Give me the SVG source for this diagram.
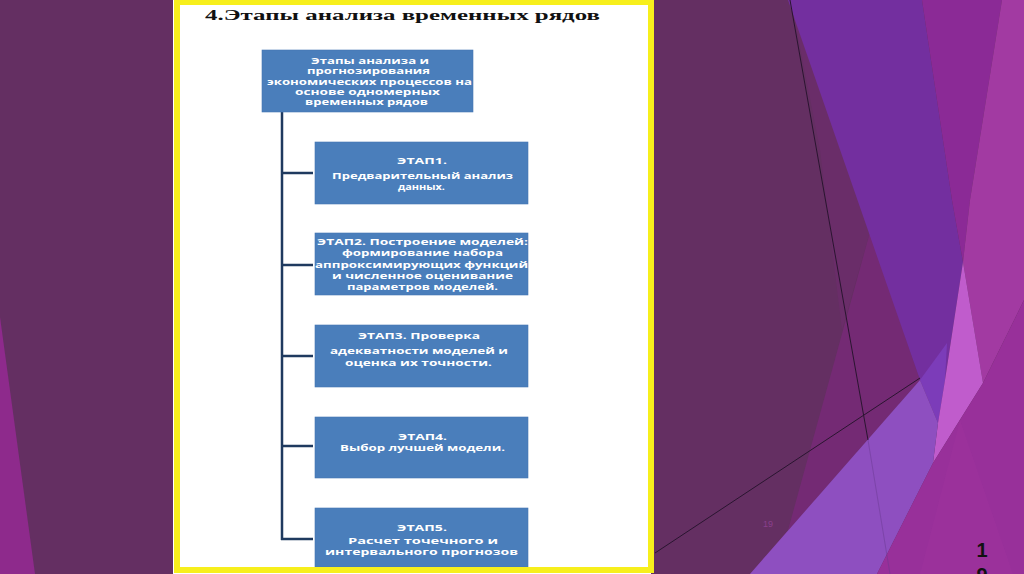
<svg xmlns="http://www.w3.org/2000/svg" width="1024" height="574" viewBox="0 0 1024 574">
<style>
.box{fill:#4a7ebb;stroke:#4476b3;stroke-width:0.6}
.bt{font-family:"Open Sans","Liberation Sans",sans-serif;font-weight:700;font-size:9px;fill:#ffffff;text-anchor:middle}
.conn{stroke:#1f3a5f;stroke-width:2.5;fill:none;stroke-linecap:butt}
.ln{stroke:#2a1530;stroke-width:1;fill:none}
</style>
<g id="background">
<rect x="0" y="0" width="1024" height="574" fill="#642f62"/>
<polygon points="0,317 0,574 35,574" fill="#8e2a8c"/>
<polygon points="791,0 870,232 842,330 820,150" fill="#6a2d69"/>
<polygon points="870,232 920,380 750,574 776,574" fill="#742a74"/>
<polygon points="788,0 922,0 952,200 963,262 945,380 938,423 920,380" fill="#732f9f"/>
<polygon points="920,380 947,343 945,380 938,423" fill="#7c3cb9"/>
<polygon points="922,0 1002,0 970,200 963,262 952,200" fill="#8b2a96"/>
<polygon points="1002,0 1024,0 1024,300 983,383 963,262 970,200" fill="#a23aa2"/>
<polygon points="963,262 983,383 933,463 938,423 945,380" fill="#c05ccc"/>
<polygon points="750,574 920,380 938,423 933,463 877,574" fill="#8e4fc0"/>
<polygon points="877,574 933,463 983,383 1024,300 1024,574" fill="#98309a"/>
<polygon points="920,574 960,420 1013,574" fill="#9c329c" opacity="0.6"/>
<line class="ln" x1="790" y1="0" x2="868" y2="440"/>
<line x1="868" y1="440" x2="890" y2="574" stroke="#6a3a90" stroke-width="0.8" opacity="0.6"/>
<line class="ln" x1="655" y1="553" x2="920" y2="378"/>
<text x="768" y="527" font-family="Liberation Sans, sans-serif" font-size="9" fill="#8a3f8c" text-anchor="middle">19</text>
<text x="982" y="557" font-family="Liberation Sans, sans-serif" font-weight="700" font-size="20" fill="#111111" text-anchor="middle">1</text>
<text x="982" y="582" font-family="Liberation Sans, sans-serif" font-weight="700" font-size="20" fill="#111111" text-anchor="middle">9</text>
</g>
<g id="frame">
<rect x="173" y="0" width="478" height="574" fill="#ffffff"/>
</g>
<g id="title">
<text x="205" y="19.5" font-family="Liberation Serif, serif" font-weight="700" font-size="15" fill="#111111" textLength="395" lengthAdjust="spacingAndGlyphs">4.Этапы анализа временных рядов</text>
</g>
<g id="connectors">
<line class="conn" x1="282" y1="112" x2="282" y2="540"/>
<line class="conn" x1="281" y1="173" x2="313" y2="173"/>
<line class="conn" x1="281" y1="265" x2="313" y2="265"/>
<line class="conn" x1="281" y1="356" x2="313" y2="356"/>
<line class="conn" x1="281" y1="446" x2="313" y2="446"/>
<line class="conn" x1="281" y1="539" x2="313" y2="539"/>
</g>
<g id="node-root">
<rect class="box" x="262" y="50" width="211" height="62"/>
<text class="bt" x="370" y="63.5" textLength="118" lengthAdjust="spacingAndGlyphs">Этапы анализа и</text>
<text class="bt" x="368.5" y="74" textLength="123" lengthAdjust="spacingAndGlyphs">прогнозирования</text>
<text class="bt" x="369.5" y="85" textLength="205" lengthAdjust="spacingAndGlyphs">экономических процессов на</text>
<text class="bt" x="367.5" y="94.5" textLength="145" lengthAdjust="spacingAndGlyphs">основе одномерных</text>
<text class="bt" x="366.5" y="105" textLength="123" lengthAdjust="spacingAndGlyphs">временных рядов</text>
</g>
<g id="node-stage1">
<rect class="box" x="315" y="142" width="213" height="62"/>
<text class="bt" x="422" y="164" textLength="50" lengthAdjust="spacingAndGlyphs">ЭТАП1.</text>
<text class="bt" x="422.5" y="179" textLength="181" lengthAdjust="spacingAndGlyphs">Предварительный анализ</text>
<text class="bt" x="421.5" y="189.5" textLength="47" lengthAdjust="spacingAndGlyphs">данных.</text>
</g>
<g id="node-stage2">
<rect class="box" x="315" y="233" width="213" height="62"/>
<text class="bt" x="422.5" y="244.5" textLength="211" lengthAdjust="spacingAndGlyphs">ЭТАП2. Построение моделей:</text>
<text class="bt" x="422.5" y="255.5" textLength="161" lengthAdjust="spacingAndGlyphs">формирование набора</text>
<text class="bt" x="421.5" y="268" textLength="213" lengthAdjust="spacingAndGlyphs">аппроксимирующих функций</text>
<text class="bt" x="422.5" y="279" textLength="181" lengthAdjust="spacingAndGlyphs">и численное оценивание</text>
<text class="bt" x="422.5" y="290" textLength="151" lengthAdjust="spacingAndGlyphs">параметров моделей.</text>
</g>
<g id="node-stage3">
<rect class="box" x="315" y="325" width="213" height="62"/>
<text class="bt" x="419" y="338.5" textLength="122" lengthAdjust="spacingAndGlyphs">ЭТАП3. Проверка</text>
<text class="bt" x="419" y="353.5" textLength="178" lengthAdjust="spacingAndGlyphs">адекватности моделей и</text>
<text class="bt" x="418.5" y="365.5" textLength="147" lengthAdjust="spacingAndGlyphs">оценка их точности.</text>
</g>
<g id="node-stage4">
<rect class="box" x="315" y="417" width="213" height="61"/>
<text class="bt" x="422.5" y="440" textLength="49" lengthAdjust="spacingAndGlyphs">ЭТАП4.</text>
<text class="bt" x="422.5" y="450.5" textLength="165" lengthAdjust="spacingAndGlyphs">Выбор лучшей модели.</text>
</g>
<g id="node-stage5">
<rect class="box" x="315" y="508" width="213" height="59"/>
<text class="bt" x="422" y="530.5" textLength="50" lengthAdjust="spacingAndGlyphs">ЭТАП5.</text>
<text class="bt" x="423" y="543.5" textLength="150" lengthAdjust="spacingAndGlyphs">Расчет точечного и</text>
<text class="bt" x="421.5" y="555" textLength="193" lengthAdjust="spacingAndGlyphs">интервального прогнозов</text>
</g>
<g id="frame-border">
<rect x="177" y="2" width="474" height="568" fill="none" stroke="#f7ef1c" stroke-width="6"/>
</g>
</svg>
